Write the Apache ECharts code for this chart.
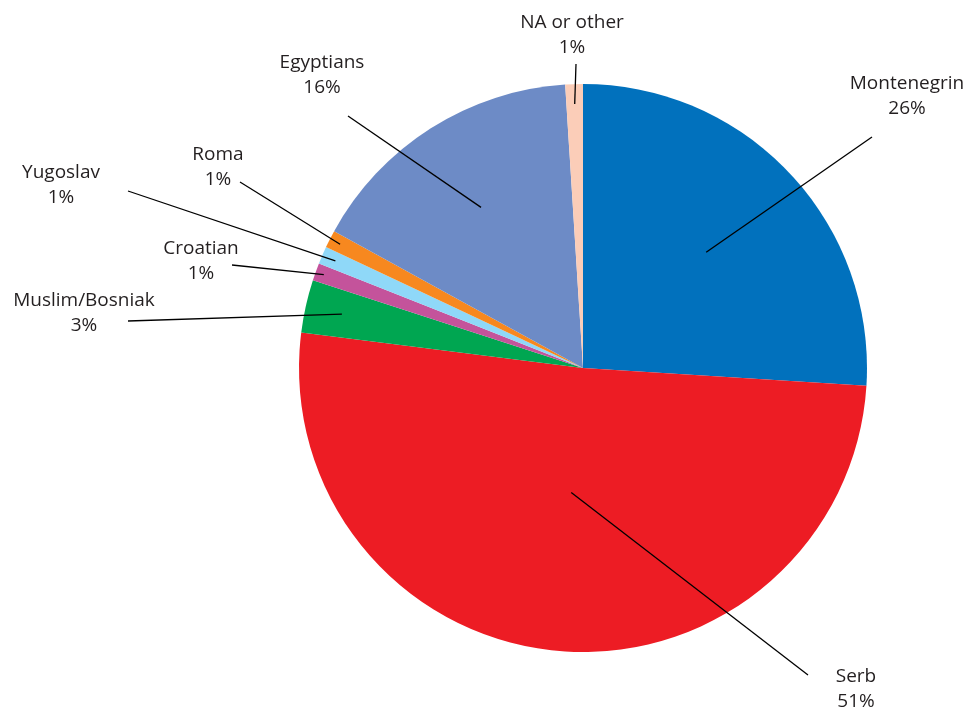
<!DOCTYPE html>
<html>
<head>
<meta charset="utf-8">
<script src="https://cdn.jsdelivr.net/npm/echarts@6/dist/echarts.min.js"></script>
<style>
  html, body { margin: 0; padding: 0; background: #ffffff; }
  #chart { width: 969px; height: 710px; }
</style>
</head>
<body>
<div id="chart"></div>
<script>
// Population by ethnicity (percent)
const categories = ['Montenegrin', 'Serb', 'Muslim/Bosniak', 'Croatian', 'Yugoslav', 'Roma', 'Egyptians', 'NA or other'];
const shares = [26, 51, 3, 1, 1, 1, 16, 1];
const sliceColors = ['#0171bd', '#ed1c24', '#00a651', '#c4539b', '#8fd8f8', '#f7881f', '#6d8bc6', '#fbcdb8'];

// Label placement: centre of each two-line label, far end of its leader line,
// and how deep (fraction of the radius) the leader line reaches into its slice.
const labelCenters = [[907, 96], [856, 689], [84, 313], [201, 261], [61, 185], [218, 167], [322, 75], [572, 35]];
const lineEnds = [[872, 137], [808, 675], [128, 321], [232, 265], [128, 191], [240, 182], [348, 116], [576, 64]];
const lineDepth = [0.595, 0.44, 0.87, 0.97, 0.95, 0.96, 0.67, 0.93];

const CX = 583, CY = 368, R = 284;

const total = shares.reduce((a, b) => a + b, 0);
const midAngles = [];
let acc = 0;
shares.forEach(v => {
  midAngles.push((acc + v / 2) / total * Math.PI * 2);
  acc += v;
});

const pieData = categories.map((name, i) => ({
  name: name,
  value: shares[i],
  itemStyle: { color: sliceColors[i] }
}));

const chart = echarts.init(document.getElementById('chart'), null, { renderer: 'canvas' });

chart.setOption({
  backgroundColor: '#ffffff',
  animation: false,
  series: [
    {
      // coloured slices
      type: 'pie',
      z: 1,
      center: [CX, CY],
      radius: R,
      startAngle: 90,
      clockwise: true,
      silent: true,
      data: pieData,
      itemStyle: { borderWidth: 0 },
      label: { show: false },
      labelLine: { show: false }
    },
    {
      // overlay carrying labels and leader lines, drawn above the slices
      type: 'pie',
      z: 2,
      center: [CX, CY],
      radius: R,
      startAngle: 90,
      clockwise: true,
      silent: true,
      avoidLabelOverlap: false,
      data: pieData.map(d => ({ name: d.name, value: d.value, itemStyle: { color: 'rgba(0,0,0,0)' } })),
      itemStyle: { borderWidth: 0 },
      label: {
        show: true,
        position: 'outside',
        formatter: '{b}\n{c}%',
        fontFamily: 'Open Sans',
        fontSize: 19,
        lineHeight: 25,
        color: '#231f20',
        align: 'center'
      },
      labelLine: {
        show: true,
        lineStyle: { color: '#000000', width: 1.3 }
      },
      labelLayout: function (p) {
        const i = p.dataIndex;
        const a = midAngles[i];
        const d = R * lineDepth[i];
        const inner = [CX + d * Math.sin(a), CY - d * Math.cos(a)];
        return {
          x: labelCenters[i][0],
          y: labelCenters[i][1],
          align: 'center',
          verticalAlign: 'middle',
          labelLinePoints: [inner, lineEnds[i], lineEnds[i]]
        };
      }
    }
  ]
});
</script>
</body>
</html>
